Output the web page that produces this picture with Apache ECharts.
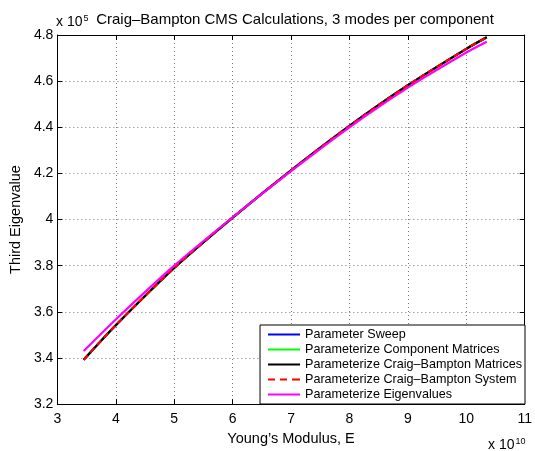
<!DOCTYPE html>
<html>
<head>
<meta charset="utf-8">
<script src="https://cdn.jsdelivr.net/npm/echarts@6/dist/echarts.min.js"></script>
<style>
  html, body { margin: 0; padding: 0; background: #fff; }
  #chart { width: 535px; height: 451px; }
</style>
</head>
<body>
<div id="chart"></div>
<script>
// Young's modulus samples (Pa) and third eigenvalue from each method
const youngsModulus = [3.45e10, 4e10, 5e10, 6e10, 7e10, 8e10, 9e10, 10e10, 10.35e10];
const parameterSweep = [3.392e5, 3.542e5, 3.790e5, 4.008e5, 4.213e5, 4.406e5, 4.582e5, 4.740e5, 4.790e5];
const componentMatrices = [3.392e5, 3.542e5, 3.790e5, 4.008e5, 4.213e5, 4.406e5, 4.582e5, 4.740e5, 4.790e5];
const cbMatrices = [3.392e5, 3.542e5, 3.790e5, 4.008e5, 4.213e5, 4.406e5, 4.582e5, 4.740e5, 4.790e5];
const cbSystem = [3.392e5, 3.542e5, 3.790e5, 4.008e5, 4.213e5, 4.406e5, 4.582e5, 4.740e5, 4.790e5];
const eigenvalues = [3.430e5, 3.567e5, 3.800e5, 4.010e5, 4.210e5, 4.400e5, 4.572e5, 4.724e5, 4.771e5];

const seriesNames = [
  'Parameter Sweep',
  'Parameterize Component Matrices',
  'Parameterize Craig\u2013Bampton Matrices',
  'Parameterize Craig\u2013Bampton System',
  'Parameterize Eigenvalues'
];
const seriesData = [parameterSweep, componentMatrices, cbMatrices, cbSystem, eigenvalues];
const seriesColors = ['#0000ff', '#00ff00', '#000000', '#ff0000', '#ff00ff'];
const seriesDash = ['solid', 'solid', 'solid', [6, 4], 'solid'];

// legend swatches: a thin solid bar, or three dashes for the dashed series
const SOLID_ICON = 'path://M0,0h32v2.2h-32z';
const DASH_ICON = 'path://M0,0h7v2.2h-7z M12,0h7v2.2h-7z M24,0h8v2.2h-8z';

const FONT = 'Liberation Sans, Arial, Helvetica, sans-serif';

const chart = echarts.init(document.getElementById('chart'), null, { renderer: 'canvas' });

const pairs = arr => youngsModulus.map((e, i) => [e, arr[i]]);

const axisLine = { show: true, lineStyle: { color: '#000', width: 1 } };
const tickIn = { show: true, inside: true, length: 5, lineStyle: { color: '#000' } };
const dotted = { show: true, lineStyle: { color: '#777', type: [1, 3], width: 1 } };
const supRich = { sup: { fontSize: 9, verticalAlign: 'top', padding: [0, 0, 7, 1], fill: '#000', fontFamily: FONT } };

chart.setOption({
  animation: false,
  backgroundColor: '#fff',
  textStyle: { fontFamily: FONT },
  title: {
    text: 'Craig\u2013Bampton CMS Calculations, 3 modes per component',
    left: 290, top: 7, textAlign: 'center',
    textStyle: { fontSize: 15, fontWeight: 'normal', color: '#000', fontFamily: FONT }
  },
  grid: { left: 54, right: 6, top: 35, bottom: 43, containLabel: false },
  xAxis: [
    {
      type: 'value', min: 3e10, max: 11e10, interval: 1e10, position: 'bottom',
      axisLine, axisTick: tickIn, splitLine: dotted,
      axisLabel: { color: '#000', fontSize: 14, margin: 8, formatter: v => String(Math.round(v / 1e10)) },
      name: 'Young\u2019s Modulus, E', nameLocation: 'middle', nameGap: 24,
      nameTextStyle: { color: '#000', fontSize: 14.5 }
    },
    {
      type: 'value', min: 3e10, max: 11e10, interval: 1e10, position: 'top',
      axisLine, axisTick: tickIn, splitLine: { show: false }, axisLabel: { show: false }
    }
  ],
  yAxis: [
    {
      type: 'value', min: 3.2e5, max: 4.8e5, interval: 0.2e5, position: 'left',
      axisLine, axisTick: tickIn, splitLine: dotted,
      axisLabel: { color: '#000', fontSize: 14, margin: 4, formatter: v => String(Math.round(v / 1e4) / 10) },
      name: 'Third Eigenvalue', nameLocation: 'middle', nameGap: 26,
      nameTextStyle: { color: '#000', fontSize: 14.5 }
    },
    {
      type: 'value', min: 3.2e5, max: 4.8e5, interval: 0.2e5, position: 'right',
      axisLine, axisTick: tickIn, splitLine: { show: false }, axisLabel: { show: false }
    }
  ],
  legend: {
    show: true,
    orient: 'vertical', right: 10, bottom: 47,
    data: seriesNames.map((name, i) => ({
      name, icon: seriesDash[i] === 'solid' ? SOLID_ICON : DASH_ICON,
      itemStyle: { color: seriesColors[i] }
    })),
    backgroundColor: '#fff', borderColor: '#000', borderWidth: 1,
    padding: [3, 3, 3, 8], itemGap: 2, itemWidth: 32, itemHeight: 14,
    textStyle: { color: '#000', fontSize: 12.6, fontFamily: FONT },
    selectedMode: false
  },
  graphic: [
    {
      type: 'text', left: 56, top: 14,
      style: { text: 'x 10{sup|5}', font: '14px ' + FONT, fill: '#000', rich: supRich }
    },
    {
      type: 'text', left: 488, top: 437,
      style: { text: 'x 10{sup|10}', font: '14px ' + FONT, fill: '#000', rich: supRich }
    }
  ],
  series: seriesNames.map((name, i) => ({
    name, type: 'line', xAxisIndex: 0, yAxisIndex: 0,
    data: pairs(seriesData[i]),
    showSymbol: false, symbol: 'none', smooth: 0.3,
    lineStyle: { color: seriesColors[i], width: 2.2, type: seriesDash[i] },
    itemStyle: { color: seriesColors[i] },
    z: 2 + i
  }))
});
</script>
</body>
</html>
